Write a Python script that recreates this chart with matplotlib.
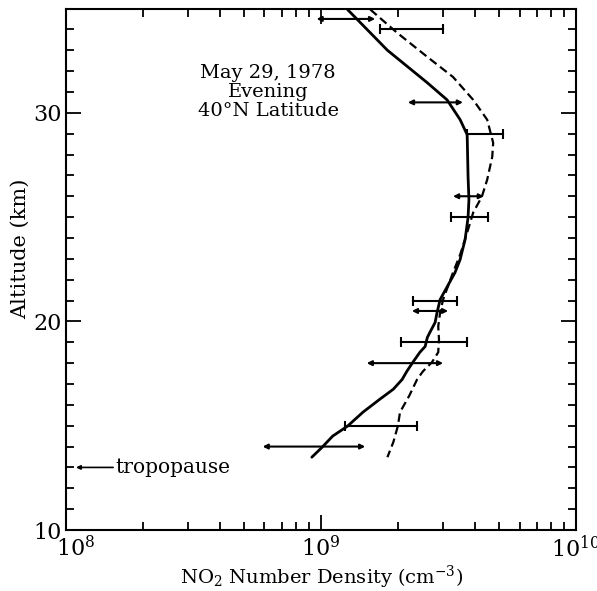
import numpy as np
import matplotlib
matplotlib.use("Agg")
import matplotlib.pyplot as plt
import matplotlib.transforms as mtransforms
from matplotlib.ticker import LogLocator, MultipleLocator, NullFormatter

plt.rcParams["font.family"] = ["DejaVu Serif"]
plt.rcParams["mathtext.fontset"] = "dejavuserif"

# solid profile (measured)
solid_no2 = [1.27e9, 1.82e9, 2.61e9, 3.12e9, 3.51e9, 3.74e9, 3.77e9, 3.80e9, 3.77e9,
             3.67e9, 3.51e9, 3.35e9, 2.93e9, 2.85e9, 2.80e9, 2.67e9, 2.61e9, 2.56e9,
             2.44e9, 2.29e9, 2.17e9, 2.08e9, 1.92e9, 1.70e9, 1.46e9, 1.27e9, 1.11e9,
             1.01e9, 0.92e9]
solid_alt = [34.95, 33.0, 31.44, 30.62, 29.67, 28.95, 26.94, 25.84, 24.98,
             23.92, 22.97, 22.34, 21.05, 20.43, 19.95, 19.47, 19.23, 18.80,
             18.52, 18.04, 17.61, 17.22, 16.75, 16.27, 15.65, 14.98, 14.50,
             13.97, 13.49]

# dashed profile (model)
dash_no2 = [1.56e9, 1.99e9, 2.61e9, 3.29e9, 3.95e9, 4.48e9, 4.73e9, 4.69e9, 4.48e9,
            4.27e9, 3.95e9, 3.74e9, 3.51e9, 3.29e9, 3.01e9, 2.93e9, 2.88e9, 2.90e9,
            2.88e9, 2.72e9, 2.51e9, 2.38e9, 2.22e9, 2.04e9, 2.00e9, 1.92e9, 1.82e9]
dash_alt = [34.95, 33.83, 32.68, 31.72, 30.62, 29.67, 28.56, 27.89, 26.79,
            25.98, 25.22, 24.26, 23.2, 22.34, 21.05, 20.43, 19.76, 19.14,
            18.52, 18.04, 17.61, 17.22, 16.45, 15.65, 14.98, 14.21, 13.49]

# error bars
bar_alt = [34.5, 34.0, 30.5, 29.0, 26.0, 25.0, 21.0, 20.5, 19.0, 18.0, 15.0, 14.0]
bar_lo = [0.96e9, 1.70e9, 2.19e9, 3.74e9, 3.29e9, 3.24e9, 2.29e9, 2.27e9, 2.06e9,
          1.51e9, 1.24e9, 0.59e9]
bar_hi = [1.63e9, 3.01e9, 3.60e9, 5.18e9, 4.35e9, 4.52e9, 3.41e9, 3.15e9, 3.74e9,
          3.01e9, 2.38e9, 1.49e9]
bar_kind = ["arrow", "cap", "arrow", "cap", "arrow", "cap", "cap", "arrow", "cap",
            "arrow", "cap", "arrow"]

tropo_alt = 13.0

fig = plt.figure(figsize=(5.97, 5.91), dpi=100)
ax = fig.add_axes([0.1106, 0.1032, 0.8544, 0.8824])

ax.plot(solid_no2, solid_alt, color="black", lw=2.0, solid_capstyle="round")
ax.plot(dash_no2, dash_alt, color="black", lw=1.6, dashes=(3.8, 2.0))

for alt, lo, hi, kind in zip(bar_alt, bar_lo, bar_hi, bar_kind):
    if kind == "arrow":
        ax.annotate("", xy=(lo, alt), xytext=(hi, alt),
                    arrowprops=dict(arrowstyle="<|-|>", color="black", lw=1.5,
                                    mutation_scale=7, shrinkA=0, shrinkB=0))
    else:
        ax.plot([lo, hi], [alt, alt], color="black", lw=1.5)
        ax.plot([lo, hi], [alt, alt], ls="none", marker="|", ms=7, mew=1.5,
                color="black")

ax.annotate("", xy=(1.094e8, tropo_alt), xytext=(1.53e8, tropo_alt),
            arrowprops=dict(arrowstyle="-|>", color="black", lw=1.2,
                            mutation_scale=6, shrinkA=0, shrinkB=0))
ax.text(1.56e8, tropo_alt, "tropopause", fontsize=14.5, va="center", ha="left")

ax.text(6.2e8, 31.0, "May 29, 1978\nEvening\n40°N Latitude", fontsize=14,
        ha="center", va="center", linespacing=1.05)

ax.set_xscale("log")
ax.set_xlim(1e8, 1e10)
ax.set_ylim(10, 35)
ax.set_xticks([1e8, 1e9, 1e10])
ax.set_xticklabels([r"$10^8$", r"$10^9$", r"$10^{10}$"])
ax.xaxis.set_minor_locator(LogLocator(base=10, subs=np.arange(2, 10)))
ax.xaxis.set_minor_formatter(NullFormatter())
ax.set_yticks([10, 20, 30])
ax.yaxis.set_minor_locator(MultipleLocator(1))

ax.tick_params(which="both", direction="in", top=True, right=True, width=1.3)
ax.tick_params(which="major", length=11, labelsize=16)
ax.tick_params(which="minor", length=6)
ax.tick_params(axis="x", which="major", pad=4)
ax.tick_params(axis="y", which="major", pad=3)
for s in ax.spines.values():
    s.set_linewidth(1.5)

# nudge the 10^8 label off the "10" of the y axis
first = ax.get_xticklabels()[0]
first.set_transform(first.get_transform() +
                    mtransforms.ScaledTranslation(10 / 100, 0, fig.dpi_scale_trans))

ax.set_xlabel(r"NO$_2$ Number Density (cm$^{-3}$)", fontsize=14, labelpad=1)
ax.set_ylabel("Altitude (km)", fontsize=15)
ax.yaxis.set_label_coords(-0.07, 0.54)

fig.savefig("out.png", dpi=100)
